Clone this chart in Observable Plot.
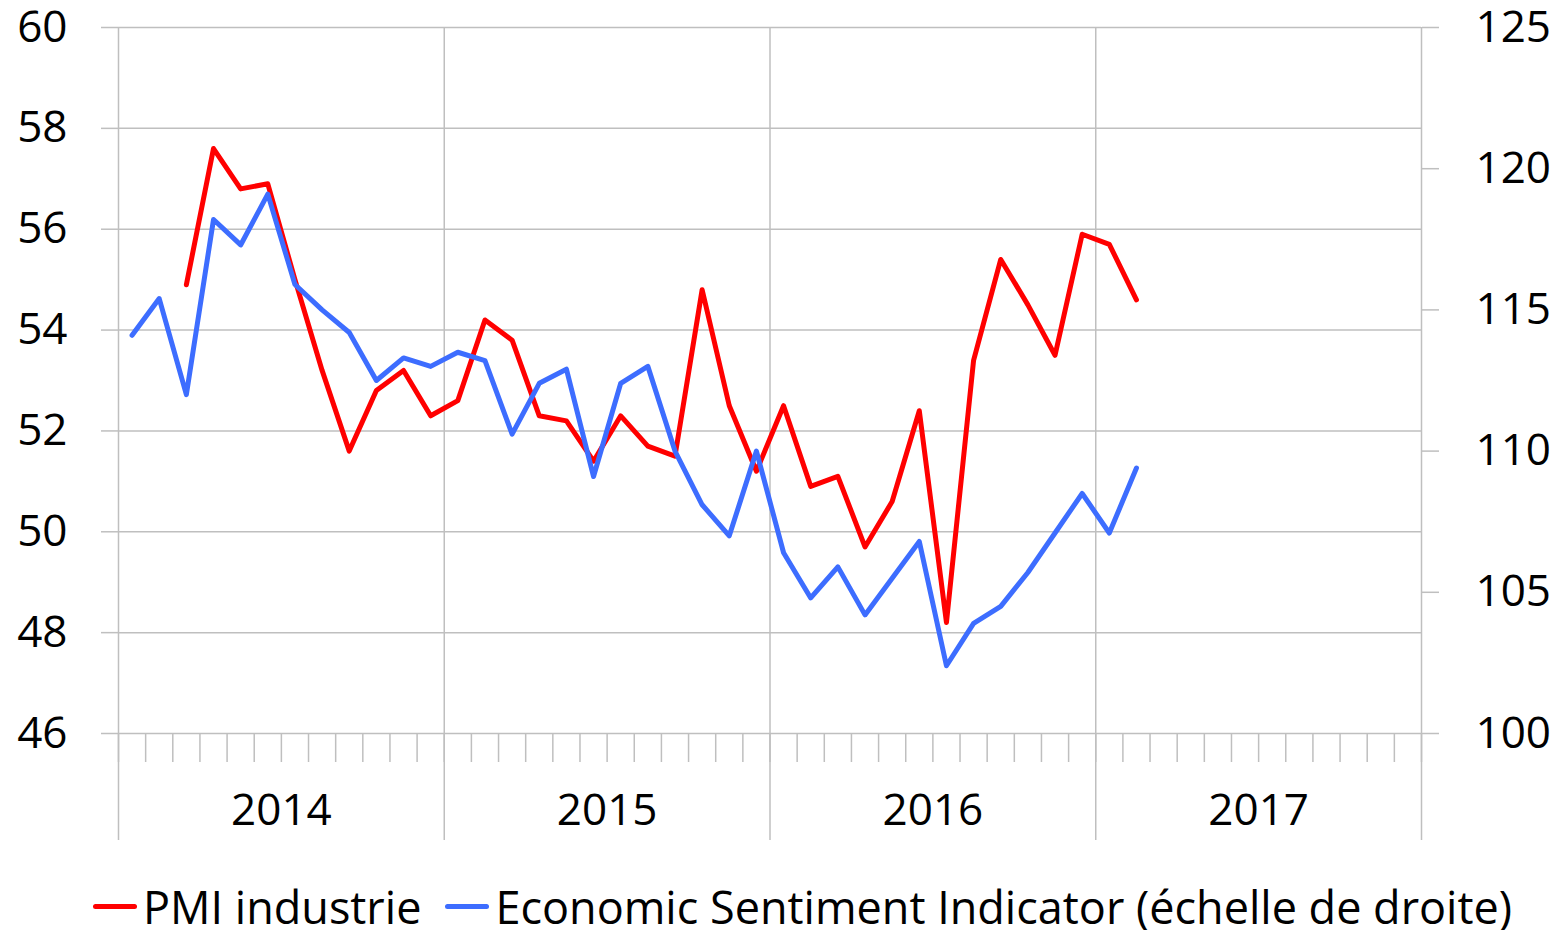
<!DOCTYPE html>
<html>
<head>
<meta charset="utf-8">
<script src="https://cdn.jsdelivr.net/npm/d3@7"></script>
<script src="https://cdn.jsdelivr.net/npm/@observablehq/plot@0.6"></script>
<style>
  html, body { margin: 0; padding: 0; background: #fff; }
  body { font-family: "Open Sans", sans-serif; color: #000; width: 1564px; }
  #chart svg { display: block; }
  #legend { display: flex; align-items: center; height: 72px; padding-left: 93px; font-size: 45px; white-space: nowrap; }
  #legend .sw { display: inline-block; width: 44px; height: 5px; border-radius: 3px; margin-right: 6px; }
  #legend .item { display: flex; align-items: center; margin-right: 24px; }
</style>
</head>
<body>
<div id="chart"></div>
<div id="legend"></div>
<script>
// ---- data ----
const months = [
  "2014-01","2014-02","2014-03","2014-04","2014-05","2014-06","2014-07","2014-08","2014-09","2014-10","2014-11","2014-12",
  "2015-01","2015-02","2015-03","2015-04","2015-05","2015-06","2015-07","2015-08","2015-09","2015-10","2015-11","2015-12",
  "2016-01","2016-02","2016-03","2016-04","2016-05","2016-06","2016-07","2016-08","2016-09","2016-10","2016-11","2016-12",
  "2017-01","2017-02"
];
const pmi = [
  null, null, 54.9, 57.6, 56.8, 56.9, 55.0, 53.2, 51.6, 52.8, 53.2, 52.3,
  52.6, 54.2, 53.8, 52.3, 52.2, 51.4, 52.3, 51.7, 51.5, 54.8, 52.5, 51.2,
  52.5, 50.9, 51.1, 49.7, 50.6, 52.4, 48.2, 53.4, 55.4, 54.5, 53.5, 55.9,
  55.7, 54.6
];
const esi = [
  114.1, 115.4, 112.0, 118.2, 117.3, 119.1, 115.9, 115.0, 114.2, 112.5, 113.3, 113.0,
  113.5, 113.2, 110.6, 112.4, 112.9, 109.1, 112.4, 113.0, 110.0, 108.1, 107.0, 110.0,
  106.4, 104.8, 105.9, 104.2, 105.5, 106.8, 102.4, 103.9, 104.5, 105.7, 107.1, 108.5,
  107.1, 109.4
];
const years = ["2014", "2015", "2016", "2017"];
const leftTicks = [46, 48, 50, 52, 54, 56, 58, 60];
const rightTicks = [100, 105, 110, 115, 120, 125];
const seriesNames = ["PMI industrie", "Economic Sentiment Indicator (échelle de droite)"];
const seriesColors = ["#ff0000", "#3d6dff"];

// ---- helpers ----
const L0 = 46, L1 = 60, R0 = 100, R1 = 125;
const toLeft = v => L0 + (v - R0) * (L1 - L0) / (R1 - R0);
const fromLeft = y => R0 + (y - L0) * (R1 - R0) / (L1 - L0);
const startYear = +years[0];
const monthIndex = m => (+m.slice(0, 4) - startYear) * 12 + (+m.slice(5, 7) - 1);
const nMonths = years.length * 12;

const rows = months.map((m, i) => ({
  x: monthIndex(m) + 0.5,
  pmi: pmi[i],
  esi: toLeft(esi[i])
}));

const yearBounds = d3.range(0, nMonths + 1, 12);
const monthBounds = d3.range(0, nMonths + 1);
const yearMids = years.map((y, i) => i * 12 + 6);
const grid = "#bfbfbf";

const chart = Plot.plot({
  width: 1564,
  height: 870,
  marginLeft: 118,
  marginRight: 143,
  marginTop: 27,
  marginBottom: 137,
  style: { fontFamily: '"Open Sans", sans-serif', fontSize: "44px", color: "#000", background: "#fff", overflow: "visible" },
  x: { type: "linear", domain: [0, nMonths], axis: null, label: null },
  y: { domain: [L0, L1], axis: null, label: null },
  marks: [
    Plot.gridY(leftTicks, { stroke: grid, strokeOpacity: 1, strokeWidth: 1.5 }),
    Plot.ruleX(yearBounds, { stroke: grid, strokeWidth: 1.5 }),
    // left ticks (gray) + labels
    Plot.axisY(leftTicks, { anchor: "left", tickSize: 17, color: grid, strokeWidth: 1.5, tickFormat: () => "", label: null }),
    Plot.axisY(leftTicks, { anchor: "left", tickSize: 0, tickPadding: 51, color: "#000", label: null, fontSize: 44,
      tickFormat: d => String(d) }),
    // right ticks + labels
    Plot.axisY(rightTicks.map(toLeft), { anchor: "right", tickSize: 17, color: grid, strokeWidth: 1.5, tickFormat: () => "", label: null }),
    Plot.axisY(rightTicks.map(toLeft), { anchor: "right", tickSize: 0, tickPadding: 54, color: "#000", label: null, fontSize: 44,
      tickFormat: d => String(Math.round(fromLeft(d))) }),
    // bottom: month ticks, year separators, year labels
    Plot.axisX(monthBounds, { anchor: "bottom", tickSize: 29, color: grid, strokeWidth: 1.5, tickFormat: () => "", label: null }),
    Plot.axisX(yearBounds, { anchor: "bottom", tickSize: 107, color: grid, strokeWidth: 1.5, tickFormat: () => "", label: null }),
    Plot.axisX(yearMids, { anchor: "bottom", tickSize: 0, tickPadding: 60, color: "#000", label: null, fontSize: 44,
      tickFormat: d => years[Math.floor(d / 12)] }),
    // series
    Plot.line(rows, { x: "x", y: "pmi", stroke: seriesColors[0], strokeWidth: 5, strokeLinejoin: "round", strokeLinecap: "round" }),
    Plot.line(rows, { x: "x", y: "esi", stroke: seriesColors[1], strokeWidth: 5, strokeLinejoin: "round", strokeLinecap: "round" })
  ]
});
document.getElementById("chart").appendChild(chart);

const legend = document.getElementById("legend");
seriesNames.forEach((name, i) => {
  const item = document.createElement("div");
  item.className = "item";
  const sw = document.createElement("span");
  sw.className = "sw";
  sw.style.background = seriesColors[i];
  const t = document.createElement("span");
  t.textContent = name;
  item.appendChild(sw);
  item.appendChild(t);
  legend.appendChild(item);
});
</script>
</body>
</html>
